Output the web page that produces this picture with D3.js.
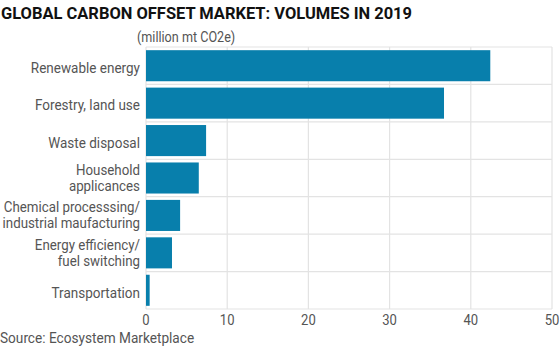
<!DOCTYPE html>
<html><head><meta charset="utf-8">
<script src="https://cdn.jsdelivr.net/npm/d3@7"></script>
<style>body{margin:0;background:#fff}svg{display:block}text{font-family:Roboto,"DejaVu Sans",sans-serif}</style>
</head><body>
<svg id="c" width="560" height="354"></svg>
<script>
const categories = [
  ["Renewable energy"],
  ["Forestry, land use"],
  ["Waste disposal"],
  ["Household", "applicances"],
  ["Chemical processsing/", "industrial maufacturing"],
  ["Energy efficiency/", "fuel switching"],
  ["Transportation"]
];
const values = [42.4, 36.7, 7.4, 6.5, 4.2, 3.2, 0.45];
const xTicks = [0, 10, 20, 30, 40, 50];
const title = "GLOBAL CARBON OFFSET MARKET: VOLUMES IN 2019";
const unit = "(million mt CO2e)";
const source = "Source: Ecosystem Marketplace";

const svg = d3.select("#c");
const m = {l:146, r:552, t:47, b:309};
const x = d3.scaleLinear().domain([0,50]).range([m.l, m.r]);
const y = d3.scaleBand().domain(d3.range(categories.length)).range([m.t, m.b]).paddingInner(0.17).paddingOuter(0.085);
const grid = "#e3e3e3";
const txt = "#555";
function narrow(sel, f){ f = f||0.9; sel.each(function(){ const l=this.getComputedTextLength(); d3.select(this).attr("textLength", l*f).attr("lengthAdjust","spacingAndGlyphs"); }); }

const bandEdges = d3.range(categories.length+1).map(i => m.t + i*(m.b-m.t)/categories.length);
svg.selectAll("line.h").data(bandEdges).join("line")
  .attr("x1", m.l).attr("x2", m.r).attr("y1", d=>d).attr("y2", d=>d)
  .attr("stroke", grid).attr("stroke-width", 1.2);
svg.selectAll("line.v").data(xTicks).join("line")
  .attr("x1", d=>x(d)).attr("x2", d=>x(d)).attr("y1", m.t).attr("y2", m.b)
  .attr("stroke", grid).attr("stroke-width", 1.2);

svg.selectAll("rect.bar").data(values).join("rect")
  .attr("x", x(0)).attr("y", (d,i)=>y(i)).attr("width", d=>x(d)-x(0)).attr("height", y.bandwidth())
  .attr("fill", "#087fac");

categories.forEach((lines,i)=>{
  const cy = y(i)+y.bandwidth()/2;
  lines.forEach((s,j)=>{
    const two = lines.length>1;
    const base = two ? cy - 3 + j*16 : cy+7.3;
    const t = svg.append("text").attr("text-anchor","end").attr("fill",txt).attr("font-size", two?14:15)
      .attr("x",140).attr("y",base).text(s);
    narrow(t, two?0.95:0.9);
  });
});

svg.selectAll("text.tick").data(xTicks).join("text")
  .attr("x", d=>x(d)).attr("y", 325).attr("text-anchor","middle")
  .attr("fill", txt).attr("font-size", 14.5).text(d=>d).call(narrow);

svg.append("text").attr("x",1).attr("y",18.5).attr("font-size",17).attr("font-weight",700)
  .attr("fill","#111").attr("textLength",411).attr("lengthAdjust","spacingAndGlyphs").text(title);
svg.append("text").attr("x",137).attr("y",41.5).attr("font-size",14).attr("fill",txt).text(unit).call(narrow);
svg.append("text").attr("x",0).attr("y",343.3).attr("font-size",14.5).attr("fill",txt).text(source).call(narrow, 0.94);
</script>
</body></html>
